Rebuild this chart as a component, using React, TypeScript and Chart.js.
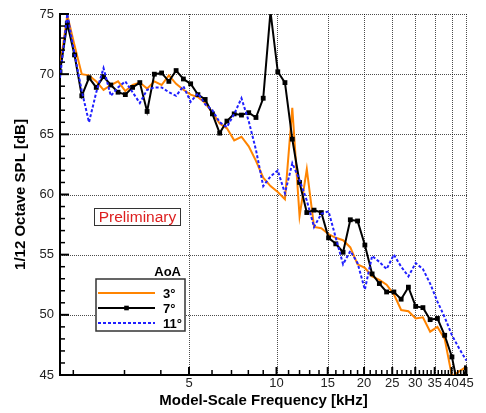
import React, { useEffect, useRef } from 'react';
import { Chart, registerables } from 'chart.js';

Chart.register(...registerables);

// 1/12-octave band centre frequencies [kHz]
const freqKHz = [
  1.8, 1.907, 2.019, 2.139, 2.265, 2.399, 2.541, 2.692, 2.851, 3.02,
  3.198, 3.387, 3.588, 3.8, 4.025, 4.263, 4.515, 4.783, 5.066, 5.365,
  5.683, 6.019, 6.375, 6.752, 7.152, 7.575, 8.023, 8.498, 9.0, 9.533,
  10.1, 10.69, 11.33, 12.0, 12.71, 13.46, 14.26, 15.1, 15.99, 16.94,
  17.94, 19.0, 20.13, 21.32, 22.58, 23.91, 25.33, 26.83, 28.42, 30.1,
  31.88, 33.76, 35.76, 37.88, 40.12, 42.49, 45.0,
];

const spl3 = [
  70.6, 74.9, 72.4, 70.0, 69.9, 69.4, 68.7, 69.1, 69.4, 68.6,
  69.1, 69.3, 68.8, 69.4, 69.1, 69.9, 69.2, 68.7, 68.3, 68.1,
  67.6, 66.8, 65.9, 65.5, 64.5, 64.8, 64.0, 62.8, 61.4, 60.7,
  60.2, 59.6, 67.2, 58.2, 62.1, 57.3, 57.2, 56.7, 56.4, 56.2,
  55.6, 54.2, 53.9, 53.2, 52.9, 52.5, 51.7, 50.4, 50.3, 49.7,
  49.8, 48.6, 49.0, 48.0, 44.9, 45.3, 45.7,
];

const spl7 = [
  70.2, 74.2, 71.6, 68.2, 69.7, 68.9, 69.8, 69.1, 68.5, 68.3,
  68.9, 69.3, 66.9, 70.0, 70.1, 69.4, 70.3, 69.6, 69.2, 68.3,
  67.9, 66.7, 65.1, 66.1, 66.7, 66.6, 66.8, 66.4, 68.0, 75.2,
  70.2, 69.3, 64.6, 61.0, 58.5, 58.7, 58.5, 56.4, 55.9, 55.2,
  57.9, 57.8, 55.8, 53.4, 52.6, 51.9, 51.9, 51.3, 52.3, 50.7,
  50.6, 49.6, 49.7, 48.3, 46.5, 43.5, 45.6,
];

const spl11 = [
  69.7, 75.0, 71.7, 68.6, 66.0, 68.5, 70.5, 68.2, 68.9, 69.4,
  68.5, 67.6, 68.7, 68.9, 68.9, 68.5, 68.2, 69.0, 67.7, 68.4,
  67.5, 67.0, 66.0, 65.6, 66.7, 68.0, 66.1, 63.7, 60.7, 61.5,
  62.0, 60.1, 62.6, 61.2, 59.5, 57.3, 58.4, 58.6, 56.4, 54.2,
  55.3, 54.3, 52.1, 54.9, 54.4, 53.8, 55.0, 54.0, 53.2, 54.3,
  53.8, 52.6, 51.1, 49.8, 48.3, 47.2, 46.2,
];

const seriesLabels = ['3°', '7°', '11°'];
const legendTitle = 'AoA';
const stampText = 'Preliminary';
const xTitle = 'Model-Scale Frequency [kHz]';
const yTitle = '1/12 Octave SPL [dB]';

const xTickValues = [
  2, 3, 4, 5, 6, 7, 8, 9, 10, 11, 12, 13, 14, 15, 16, 17, 18, 19, 20, 21,
  22, 23, 24, 25, 26, 27, 28, 29, 30, 31, 32, 33, 34, 35, 36, 37, 38, 39, 40,
  41, 42, 43, 44, 45,
];
const xLabelValues = [5, 10, 15, 20, 25, 30, 35, 40, 45];
const yMin = 45;
const yMax = 75;
const xMin = 1.8;
const xMax = 45.2;

const FONT = '"Liberation Sans", Arial, Helvetica, sans-serif';
const GRID = 'rgba(0,0,0,0.7)';

const gridPlugin = {
  id: 'dottedGrid',
  beforeDatasetsDraw(chart: any) {
    const { ctx, chartArea: a, scales } = chart;
    const xs = scales.x;
    const ys = scales.y;
    ctx.save();
    ctx.strokeStyle = GRID;
    ctx.lineWidth = 1;
    ctx.setLineDash([1, 1]);
    xs.ticks.forEach((t: any) => {
      if (!xLabelValues.includes(t.value)) return;
      const px = Math.round(xs.getPixelForValue(t.value)) + 0.5;
      ctx.beginPath();
      ctx.moveTo(px, a.top);
      ctx.lineTo(px, a.bottom);
      ctx.stroke();
    });
    ys.ticks.forEach((t: any) => {
      if (t.value % 5 !== 0 || t.value <= yMin) return;
      const py = Math.round(ys.getPixelForValue(t.value)) + 0.5;
      ctx.beginPath();
      ctx.moveTo(a.left, py);
      ctx.lineTo(a.right, py);
      ctx.stroke();
    });
    ctx.restore();
  },
};

const overlayPlugin = {
  id: 'overlay',
  afterDraw(chart: any) {
    const { ctx, chartArea: a, scales } = chart;
    const xs = scales.x;
    const ys = scales.y;
    ctx.save();
    ctx.strokeStyle = '#000';
    // inward tick marks
    xs.ticks.forEach((t: any) => {
      const major = xLabelValues.includes(t.value);
      const px = xs.getPixelForValue(t.value);
      ctx.lineWidth = major ? 2 : 1.5;
      ctx.beginPath();
      ctx.moveTo(px, a.bottom);
      ctx.lineTo(px, a.bottom - (major ? 8 : 5));
      ctx.stroke();
    });
    ys.ticks.forEach((t: any) => {
      const major = t.value % 5 === 0;
      const py = ys.getPixelForValue(t.value);
      ctx.lineWidth = major ? 2 : 1.5;
      ctx.beginPath();
      ctx.moveTo(a.left, py);
      ctx.lineTo(a.left + (major ? 9 : 5), py);
      ctx.stroke();
    });

    // "Preliminary" stamp
    const sx = a.left + 34.5;
    const sy = a.top + 194.5;
    ctx.lineWidth = 1;
    ctx.strokeStyle = '#333';
    ctx.strokeRect(sx, sy, 86, 17);
    ctx.fillStyle = '#dd1f1f';
    ctx.font = `15.5px ${FONT}`;
    ctx.textAlign = 'center';
    ctx.textBaseline = 'middle';
    ctx.fillText(stampText, sx + 43, sy + 9);

    // legend
    const bx = a.left + 36;
    const by = a.top + 265;
    const bw = 89;
    const bh = 52;
    ctx.fillStyle = '#fff';
    ctx.fillRect(bx, by, bw, bh);
    ctx.lineWidth = 1.5;
    ctx.strokeStyle = '#333';
    ctx.strokeRect(bx, by, bw, bh);
    ctx.fillStyle = '#000';
    ctx.font = `bold 13px ${FONT}`;
    ctx.textAlign = 'right';
    ctx.textBaseline = 'middle';
    ctx.fillText(legendTitle, bx + bw - 4, by - 7);
    chart.data.datasets.forEach((ds: any, i: number) => {
      const ly = by + 14 + i * 15;
      ctx.save();
      ctx.strokeStyle = ds.borderColor;
      ctx.lineWidth = ds.borderWidth;
      ctx.setLineDash(ds.borderDash || []);
      ctx.beginPath();
      ctx.moveTo(bx + 2, ly);
      ctx.lineTo(bx + 59, ly);
      ctx.stroke();
      ctx.restore();
      if (ds.pointRadius > 0) {
        ctx.fillStyle = ds.pointBackgroundColor;
        const s = 4.6;
        ctx.fillRect(bx + 30.5 - s / 2, ly - s / 2, s, s);
      }
      ctx.fillStyle = '#000';
      ctx.font = `bold 13px ${FONT}`;
      ctx.textAlign = 'left';
      ctx.textBaseline = 'middle';
      ctx.fillText(ds.label, bx + 67, ly + 1);
    });
    ctx.restore();
  },
};

export default function App() {
  const canvasRef = useRef<HTMLCanvasElement | null>(null);

  useEffect(() => {
    document.body.style.margin = '0';
    const canvas = canvasRef.current;
    if (!canvas) return;
    const toPts = (arr: number[]) => freqKHz.map((f, i) => ({ x: f, y: arr[i] }));
    const chart = new Chart(canvas, {
      type: 'line',
      data: {
        datasets: [
          {
            label: seriesLabels[0],
            data: toPts(spl3),
            borderColor: '#ff8400',
            backgroundColor: '#ff8400',
            borderWidth: 2,
            pointRadius: 0,
            tension: 0,
            order: 3,
          },
          {
            label: seriesLabels[1],
            data: toPts(spl7),
            borderColor: '#000',
            backgroundColor: '#000',
            pointBackgroundColor: '#000',
            pointBorderColor: '#000',
            pointStyle: 'rect',
            pointRadius: 3.4,
            pointBorderWidth: 0,
            borderWidth: 2,
            tension: 0,
            order: 2,
          },
          {
            label: seriesLabels[2],
            data: toPts(spl11),
            borderColor: '#2020ff',
            backgroundColor: '#2020ff',
            borderWidth: 2,
            borderDash: [3, 2],
            pointRadius: 0,
            tension: 0,
            order: 1,
          },
        ] as any,
      },
      options: {
        animation: false,
        responsive: false,
        devicePixelRatio: 1,
        layout: { padding: { left: 0, right: 19, top: 14, bottom: 0 } },
        plugins: {
          legend: { display: false },
          tooltip: { enabled: false },
        },
        scales: {
          x: {
            type: 'logarithmic',
            min: xMin,
            max: xMax,
            afterBuildTicks: (scale: any) => {
              scale.ticks = xTickValues.map((v) => ({ value: v }));
            },
            afterFit: (scale: any) => {
              scale.height = 38;
            },
            ticks: {
              autoSkip: false,
              maxRotation: 0,
              padding: 1,
              color: '#222',
              font: { family: FONT, size: 13 },
              callback: (v: any) => (xLabelValues.includes(Number(v)) ? String(v) : ''),
            },
            grid: { display: false, drawTicks: false },
            border: { display: true, width: 2, color: '#000' },
            title: {
              display: true,
              text: xTitle,
              color: '#000',
              font: { family: FONT, size: 15, weight: 'bold' },
              padding: { top: 0, bottom: 3 },
            },
          },
          y: {
            type: 'linear',
            min: yMin,
            max: yMax,
            afterFit: (scale: any) => {
              scale.width = 60;
            },
            ticks: {
              stepSize: 1,
              autoSkip: false,
              padding: 6,
              color: '#222',
              font: { family: FONT, size: 13 },
              callback: (v: any) => (Number(v) % 5 === 0 ? String(v) : ''),
            },
            grid: { display: false, drawTicks: false },
            border: { display: true, width: 2, color: '#000' },
            title: {
              display: true,
              text: yTitle,
              color: '#000',
              font: { family: FONT, size: 15, weight: 'bold' },
              padding: { top: 12, bottom: 0 },
            },
          },
        },
      } as any,
      plugins: [gridPlugin, overlayPlugin],
    });
    return () => chart.destroy();
  }, []);

  return (
    <div style={{ width: 486, height: 413, position: 'relative' }}>
      <canvas ref={canvasRef} width={486} height={413} />
    </div>
  );
}
